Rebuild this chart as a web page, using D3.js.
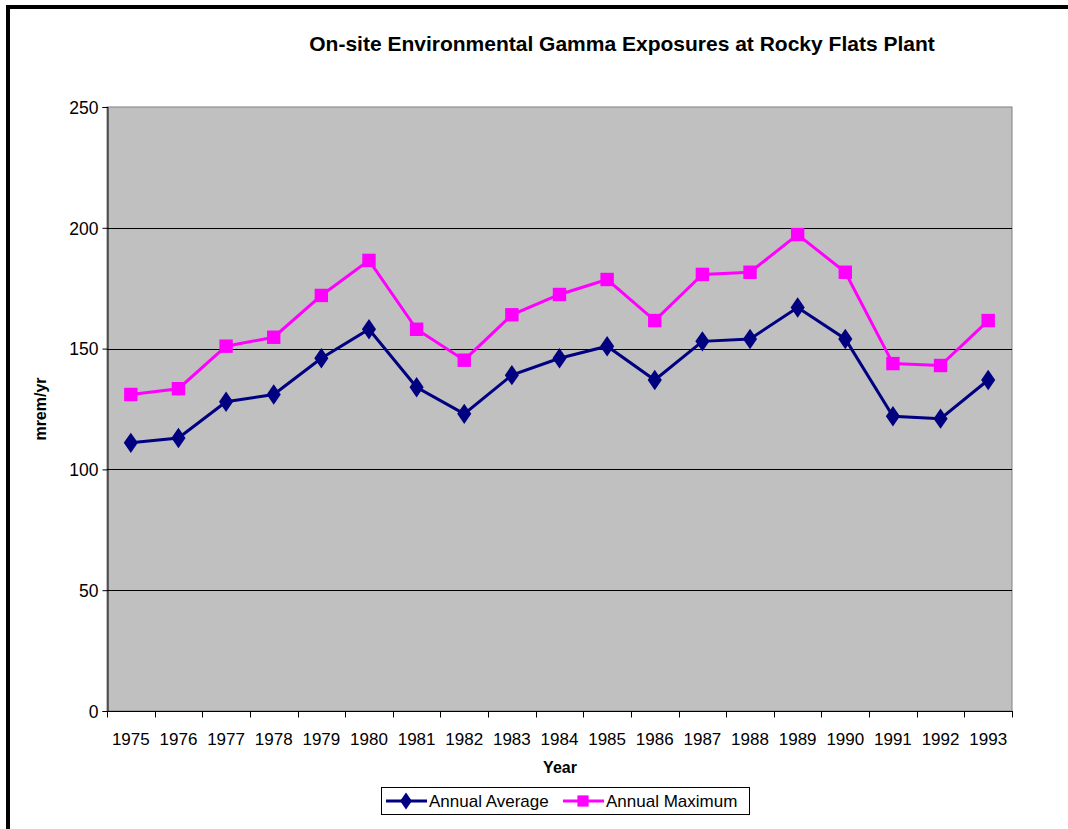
<!DOCTYPE html>
<html>
<head>
<meta charset="utf-8">
<script src="https://cdn.jsdelivr.net/npm/d3@7"></script>
<style>
  body { margin: 0; background: #fff; }
  svg { display: block; font-family: Arial, "Liberation Sans", sans-serif; }
</style>
</head>
<body>
<svg id="chart" width="1068" height="829"></svg>
<script>
// chart values
var years = ["1975", "1976", "1977", "1978", "1979", "1980", "1981", "1982", "1983", "1984",
             "1985", "1986", "1987", "1988", "1989", "1990", "1991", "1992", "1993"];
var annualAverage = [111, 113, 128, 131, 146, 158, 134, 123, 139, 146,
                     151, 137, 153, 154, 167, 154, 122, 121, 137];
var annualMaximum = [131, 133.4, 151, 154.7, 172, 186.5, 158, 145.2, 164, 172.4,
                     178.6, 161.6, 180.7, 181.6, 197.2, 181.6, 143.8, 143, 161.6];
var yTicks = [0, 50, 100, 150, 200, 250];

var svg = d3.select("#chart");
var margin = [107, 107, 1012, 711]; // left, top, right, bottom of the plot area

// frame round the picture (top and left edges only show)
svg.append("line").attr("x1", 8).attr("y1", 7).attr("x2", 1068).attr("y2", 7)
    .attr("stroke", "#000").attr("stroke-width", 4);
svg.append("line").attr("x1", 8).attr("y1", 5).attr("x2", 8).attr("y2", 829)
    .attr("stroke", "#000").attr("stroke-width", 4);

var x = d3.scaleBand().domain(years).range([margin[0], margin[2]]);
var y = d3.scaleLinear().domain([0, 250]).range([margin[3], margin[1]]);

// plot area
svg.append("rect")
    .attr("x", margin[0]).attr("y", margin[1])
    .attr("width", margin[2] - margin[0]).attr("height", margin[3] - margin[1])
    .attr("fill", "#c0c0c0").attr("stroke", "#808080").attr("stroke-width", 1);

// grid lines
svg.append("g").selectAll("line")
    .data(yTicks.filter(function (d) { return d > 0 && d < 250; }))
    .enter().append("line")
    .attr("x1", margin[0]).attr("x2", margin[2])
    .attr("y1", function (d) { return Math.round(y(d)) + 0.5; })
    .attr("y2", function (d) { return Math.round(y(d)) + 0.5; })
    .attr("stroke", "#000").attr("stroke-width", 1);

// y axis
var yAxis = svg.append("g")
    .attr("transform", "translate(" + (margin[0] + 0.5) + ",0)")
    .call(d3.axisLeft(y).tickValues(yTicks).tickSize(5).tickPadding(4));
yAxis.attr("font-family", null).attr("font-size", null);
yAxis.selectAll("text").attr("font-size", 17.5).attr("fill", "#000").attr("dy", "0.36em");
yAxis.selectAll("path, line").attr("stroke", "#000");

// x axis, ticks sit between the categories
var xAxis = svg.append("g")
    .attr("transform", "translate(0," + (margin[3] + 0.5) + ")");
xAxis.append("line").attr("x1", margin[0]).attr("x2", margin[2] + 1)
    .attr("stroke", "#000");
xAxis.selectAll(".tick")
    .data(years.concat(["end"]))
    .enter().append("line")
    .attr("x1", function (d, i) { return Math.round(margin[0] + i * x.step()) + 0.5; })
    .attr("x2", function (d, i) { return Math.round(margin[0] + i * x.step()) + 0.5; })
    .attr("y1", 0).attr("y2", 6).attr("stroke", "#000");
xAxis.selectAll("text")
    .data(years)
    .enter().append("text")
    .attr("x", function (d) { return x(d) + x.bandwidth() / 2; })
    .attr("y", 33)
    .attr("text-anchor", "middle")
    .attr("font-size", 17)
    .text(function (d) { return d; });

// titles
svg.append("text").attr("x", 622).attr("y", 51)
    .attr("text-anchor", "middle").attr("font-size", 21).attr("font-weight", "bold")
    .text("On-site Environmental Gamma Exposures at Rocky Flats Plant");
svg.append("text").attr("x", 560).attr("y", 773)
    .attr("text-anchor", "middle").attr("font-size", 16).attr("font-weight", "bold")
    .text("Year");
svg.append("text")
    .attr("transform", "translate(46," + ((margin[1] + margin[3]) / 2) + ") rotate(-90)")
    .attr("text-anchor", "middle").attr("font-size", 16).attr("font-weight", "bold")
    .text("mrem/yr");

// the two series
var cx = function (d, i) { return x(years[i]) + x.bandwidth() / 2; };
var line = d3.line().x(cx).y(function (d) { return y(d); });
var series = [
    { name: "Annual Average", values: annualAverage, color: "#000080", symbol: d3.symbolDiamond, size: 120 },
    { name: "Annual Maximum", values: annualMaximum, color: "#ff00ff", symbol: d3.symbolSquare, size: 180 }
];

// draw the maximum first so the average sits over it, as in the original
series.slice().reverse().forEach(function (s) {
    svg.append("path").datum(s.values)
        .attr("d", line).attr("fill", "none")
        .attr("stroke", s.color).attr("stroke-width", 3);
    svg.append("g").selectAll("path")
        .data(s.values).enter().append("path")
        .attr("transform", function (d, i) { return "translate(" + cx(d, i) + "," + y(d) + ")" + (s.symbol === d3.symbolDiamond ? " scale(1.2,1)" : ""); })
        .attr("d", d3.symbol().type(s.symbol).size(s.size))
        .attr("fill", s.color);
});

// legend
var legend = svg.append("g");
legend.append("rect").attr("x", 381.5).attr("y", 787.5).attr("width", 368).attr("height", 27)
    .attr("fill", "#fff").attr("stroke", "#000");
var legendX = [386, 563];
series.forEach(function (s, i) {
    var lx = legendX[i];
    legend.append("line").attr("x1", lx).attr("x2", lx + 41).attr("y1", 801).attr("y2", 801)
        .attr("stroke", s.color).attr("stroke-width", 3);
    legend.append("path")
        .attr("transform", "translate(" + (lx + 20) + ",801)" + (s.symbol === d3.symbolDiamond ? " scale(1.2,1)" : ""))
        .attr("d", d3.symbol().type(s.symbol).size(s.size * 0.7))
        .attr("fill", s.color);
    legend.append("text").attr("x", lx + 43).attr("y", 807)
        .attr("font-size", 17).text(s.name);
});
</script>
</body>
</html>
